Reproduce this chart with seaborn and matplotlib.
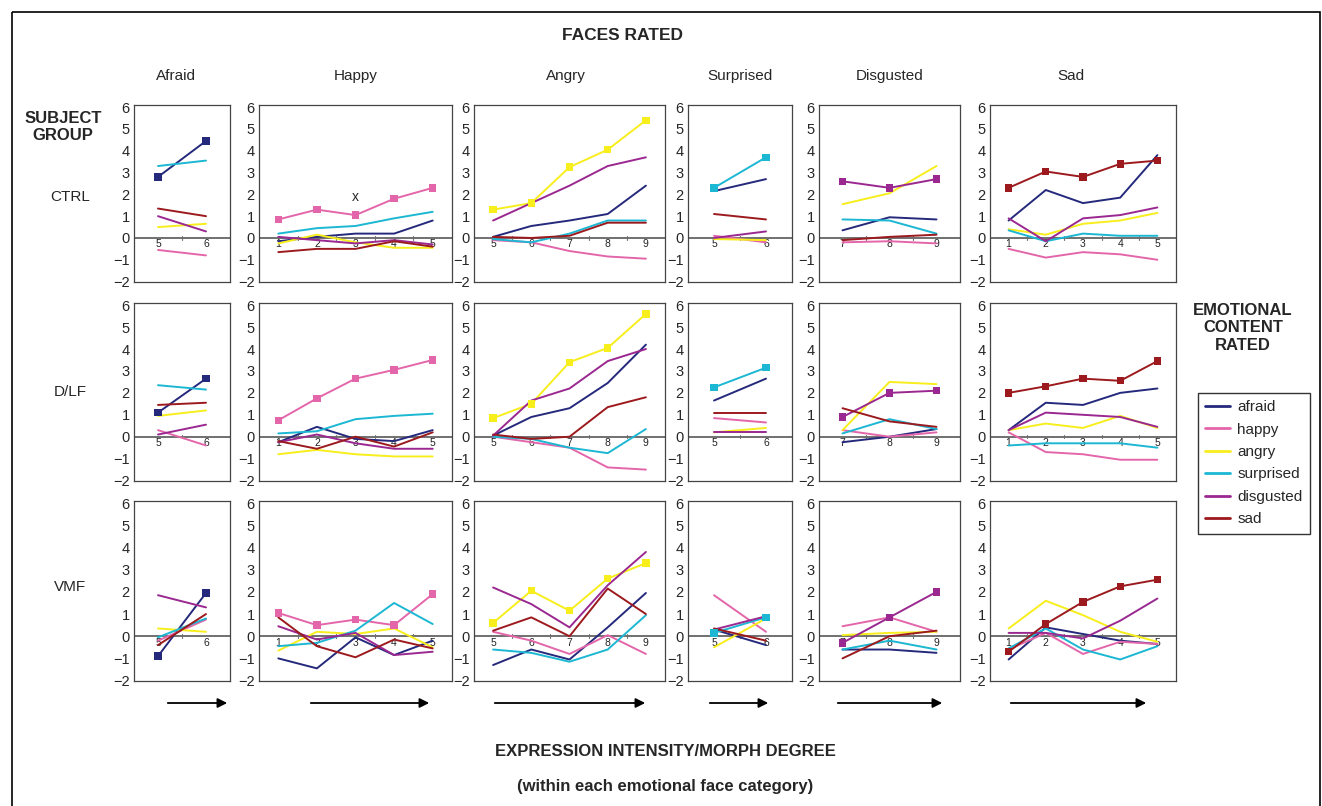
import pandas as pd
import matplotlib
matplotlib.use("Agg")
import matplotlib.pyplot as plt
import seaborn as sns
from matplotlib.lines import Line2D
from matplotlib.patches import FancyArrowPatch, Rectangle

emotions = ["afraid", "happy", "angry", "surprised", "disgusted", "sad"]
faces = ["Afraid", "Happy", "Angry", "Surprised", "Disgusted", "Sad"]
groups = ["CTRL", "D/LF", "VMF"]

# morph degrees shown for each face category
x_afraid = [5, 6]
x_happy = [1, 2, 3, 4, 5]
x_angry = [5, 6, 7, 8, 9]
x_surprised = [5, 6]
x_disgusted = [7, 8, 9]
x_sad = [1, 2, 3, 4, 5]

# ratings, order: afraid, happy, angry, surprised, disgusted, sad
ctrl_afraid = [[2.8, 4.45], [-0.55, -0.8], [0.5, 0.65], [3.3, 3.55], [1.0, 0.3], [1.35, 1.0]]
ctrl_happy = [[-0.15, 0.05, 0.2, 0.2, 0.8], [0.85, 1.3, 1.05, 1.8, 2.3], [-0.25, 0.15, -0.2, -0.45, -0.45],
              [0.2, 0.45, 0.55, 0.9, 1.2], [0.05, -0.1, -0.25, -0.1, -0.3], [-0.65, -0.5, -0.5, -0.15, -0.4]]
ctrl_angry = [[0.05, 0.55, 0.8, 1.1, 2.4], [-0.1, -0.2, -0.6, -0.85, -0.95], [1.3, 1.6, 3.25, 4.05, 5.4],
              [-0.05, -0.2, 0.2, 0.8, 0.8], [0.8, 1.6, 2.4, 3.3, 3.7], [0.05, 0.0, 0.1, 0.7, 0.7]]
ctrl_surprised = [[2.15, 2.7], [0.1, -0.2], [-0.05, -0.1], [2.3, 3.7], [0.0, 0.3], [1.1, 0.85]]
ctrl_disgusted = [[0.35, 0.95, 0.85], [-0.2, -0.15, -0.25], [1.55, 2.05, 3.3],
                  [0.85, 0.8, 0.2], [2.6, 2.3, 2.7], [-0.1, 0.05, 0.15]]
ctrl_sad = [[0.8, 2.2, 1.6, 1.85, 3.8], [-0.5, -0.9, -0.65, -0.75, -1.0], [0.4, 0.15, 0.65, 0.8, 1.15],
            [0.35, -0.15, 0.2, 0.1, 0.1], [0.9, -0.15, 0.9, 1.05, 1.4], [2.3, 3.05, 2.8, 3.4, 3.55]]

dlf_afraid = [[1.1, 2.65], [0.3, -0.4], [0.95, 1.2], [2.35, 2.15], [0.1, 0.55], [1.45, 1.55]]
dlf_happy = [[-0.25, 0.45, -0.1, -0.2, 0.3], [0.75, 1.75, 2.65, 3.05, 3.5], [-0.8, -0.6, -0.8, -0.9, -0.9],
             [0.15, 0.25, 0.8, 0.95, 1.05], [-0.25, 0.1, -0.3, -0.55, -0.55], [-0.2, -0.55, 0.0, -0.45, 0.2]]
dlf_angry = [[0.05, 0.9, 1.3, 2.45, 4.2], [0.0, -0.25, -0.5, -1.4, -1.5], [0.85, 1.5, 3.4, 4.05, 5.6],
             [0.0, -0.1, -0.5, -0.75, 0.35], [0.05, 1.65, 2.2, 3.45, 4.0], [0.1, -0.1, 0.0, 1.35, 1.8]]
dlf_surprised = [[1.65, 2.65], [0.85, 0.65], [0.2, 0.4], [2.25, 3.15], [0.2, 0.2], [1.1, 1.1]]
dlf_disgusted = [[-0.25, 0.0, 0.35], [0.3, 0.0, 0.2], [0.3, 2.5, 2.4],
                 [0.15, 0.8, 0.35], [0.9, 2.0, 2.1], [1.3, 0.7, 0.45]]
dlf_sad = [[0.3, 1.55, 1.45, 2.0, 2.2], [0.2, -0.7, -0.8, -1.05, -1.05], [0.3, 0.6, 0.4, 0.95, 0.4],
           [-0.4, -0.3, -0.3, -0.3, -0.5], [0.3, 1.1, 1.0, 0.9, 0.45], [2.0, 2.3, 2.65, 2.55, 3.45]]

vmf_afraid = [[-0.9, 1.95], [-0.2, 0.75], [0.35, 0.2], [-0.05, 0.8], [1.85, 1.3], [-0.4, 1.0]]
vmf_happy = [[-1.0, -1.45, -0.05, -0.85, -0.2], [1.05, 0.5, 0.75, 0.5, 1.9], [-0.65, 0.2, 0.1, 0.35, -0.5],
             [-0.45, -0.3, 0.25, 1.5, 0.55], [0.45, -0.15, 0.15, -0.85, -0.7], [0.85, -0.45, -0.95, -0.15, -0.55]]
vmf_angry = [[-1.3, -0.6, -1.05, 0.4, 1.95], [0.2, -0.2, -0.8, 0.05, -0.8], [0.6, 2.05, 1.15, 2.6, 3.3],
             [-0.6, -0.75, -1.15, -0.6, 0.95], [2.2, 1.45, 0.4, 2.3, 3.8], [0.25, 0.85, 0.0, 2.15, 1.0]]
vmf_surprised = [[0.3, -0.4], [1.85, 0.2], [-0.5, 0.8], [0.15, 0.85], [0.3, 0.9], [0.35, -0.2]]
vmf_disgusted = [[-0.6, -0.6, -0.75], [0.45, 0.85, 0.2], [0.05, 0.15, 0.2],
                 [-0.6, -0.2, -0.6], [-0.3, 0.85, 2.0], [-1.0, 0.0, 0.25]]
vmf_sad = [[-1.05, 0.4, 0.1, -0.2, -0.35], [-0.6, 0.15, -0.8, -0.25, -0.35], [0.35, 1.6, 0.95, 0.2, -0.25],
           [-0.55, 0.35, -0.6, -1.05, -0.45], [0.15, 0.15, -0.1, 0.7, 1.7], [-0.7, 0.55, 1.55, 2.25, 2.55]]

xs = [x_afraid, x_happy, x_angry, x_surprised, x_disgusted, x_sad]
panels = [
    [ctrl_afraid, ctrl_happy, ctrl_angry, ctrl_surprised, ctrl_disgusted, ctrl_sad],
    [dlf_afraid, dlf_happy, dlf_angry, dlf_surprised, dlf_disgusted, dlf_sad],
    [vmf_afraid, vmf_happy, vmf_angry, vmf_surprised, vmf_disgusted, vmf_sad],
]

palette = {"afraid": "#25297c", "happy": "#e466aa", "angry": "#f7ee1c",
           "surprised": "#1bb7d3", "disgusted": "#9a2890", "sad": "#9c1a1e"}

sns.set_style("white")
plt.rcParams["font.family"] = ["Liberation Sans", "DejaVu Sans"]

W, H = 1322, 806
fig = plt.figure(figsize=(W / 100, H / 100), dpi=100)

# panel positions in pixels
col_lr = [(134, 230), (259, 452), (474, 665), (688, 792), (819, 960), (990, 1176)]
row_tb = [(105, 282), (303, 481), (501, 681)]


def px_box(l, t, r, b):
    return [l / W, 1 - b / H, (r - l) / W, (b - t) / H]


for ri, row in enumerate(panels):
    for ci, vals in enumerate(row):
        l, r = col_lr[ci]
        t, b = row_tb[ri]
        ax = fig.add_axes(px_box(l, t, r, b))
        x = xs[ci]
        df = pd.DataFrame([(e, xx, v) for e, ser in zip(emotions, vals) for xx, v in zip(x, ser)],
                          columns=["emotion", "degree", "rating"])
        ax.axhline(0, color="#707070", lw=1.4, zorder=1)
        sns.lineplot(data=df, x="degree", y="rating", hue="emotion", palette=palette,
                     hue_order=emotions, lw=1.4, legend=False, ax=ax, zorder=3)
        marked = df[df["emotion"] == emotions[ci]]
        sns.scatterplot(data=marked, x="degree", y="rating", color=palette[emotions[ci]],
                        marker="s", s=28, edgecolor="none", legend=False, ax=ax, zorder=4)
        # small ticks on the zero line between categories
        for m in x[:-1]:
            ax.plot([m + 0.5, m + 0.5], [-0.08, 0.08], color="#707070", lw=0.8, zorder=1)
        for xx in x:
            ax.text(xx, -0.06, str(xx), ha="center", va="top", fontsize=7.5, color="#222222", zorder=2)
        ax.set_xlim(x[0] - 0.5, x[-1] + 0.5)
        ax.set_ylim(-2.02, 6.1)
        ax.set_yticks(range(-2, 7))
        ax.set_xticks([])
        ax.set_xlabel("")
        ax.set_ylabel("")
        ax.tick_params(axis="y", length=0, pad=3, labelsize=10.5)
        for sp in ax.spines.values():
            sp.set_color("#444444")
            sp.set_linewidth(0.9)
        if ri == 0 and ci == 1:
            ax.text(3, 1.9, "x", ha="center", va="center", fontsize=10)

# overlay in pixel coordinates for titles, arrows and the outer frame
ov = fig.add_axes([0, 0, 1, 1], zorder=-1)
ov.set_xlim(0, W)
ov.set_ylim(H, 0)
ov.axis("off")
ov.add_patch(Rectangle((12, 12), W - 14, H, fill=False, edgecolor="black", lw=1.2))

ov.text(622, 35, "FACES RATED", ha="center", va="center", fontsize=12.5, fontweight="bold")
title_x = [176, 356, 566, 740, 890, 1071]
for tx, name in zip(title_x, faces):
    ov.text(tx, 76, name, ha="center", va="center", fontsize=11)

ov.text(63, 127, "SUBJECT\nGROUP", ha="center", va="center", fontsize=12, fontweight="bold",
        linespacing=1.15)
for gy, g in zip([197, 392, 587], groups):
    ov.text(70, gy, g, ha="center", va="center", fontsize=11)

ov.text(1243, 328, "EMOTIONAL\nCONTENT\nRATED", ha="center", va="center", fontsize=12,
        fontweight="bold", linespacing=1.2)

arrows = [(165, 230), (308, 432), (492, 648), (707, 771), (835, 945), (1008, 1149)]
for a0, a1 in arrows:
    ov.add_patch(FancyArrowPatch((a0, 703), (a1, 703), arrowstyle="-|>", mutation_scale=14,
                                 color="black", lw=1.3))

ov.text(665, 752, "EXPRESSION INTENSITY/MORPH DEGREE", ha="center", va="center",
        fontsize=12, fontweight="bold")
ov.text(665, 787, "(within each emotional face category)", ha="center", va="center",
        fontsize=12, fontweight="bold")

handles = [Line2D([0], [0], color=palette[e], lw=2) for e in emotions]
leg = fig.legend(handles, emotions, loc="upper left", bbox_to_anchor=(1190 / W, 1 - 385 / H),
                 fontsize=11, frameon=True, fancybox=False, edgecolor="black",
                 handlelength=1.6, handletextpad=0.5, labelspacing=0.55, borderpad=0.5)
leg.get_frame().set_linewidth(1.0)

fig.savefig("out.png", dpi=100)
